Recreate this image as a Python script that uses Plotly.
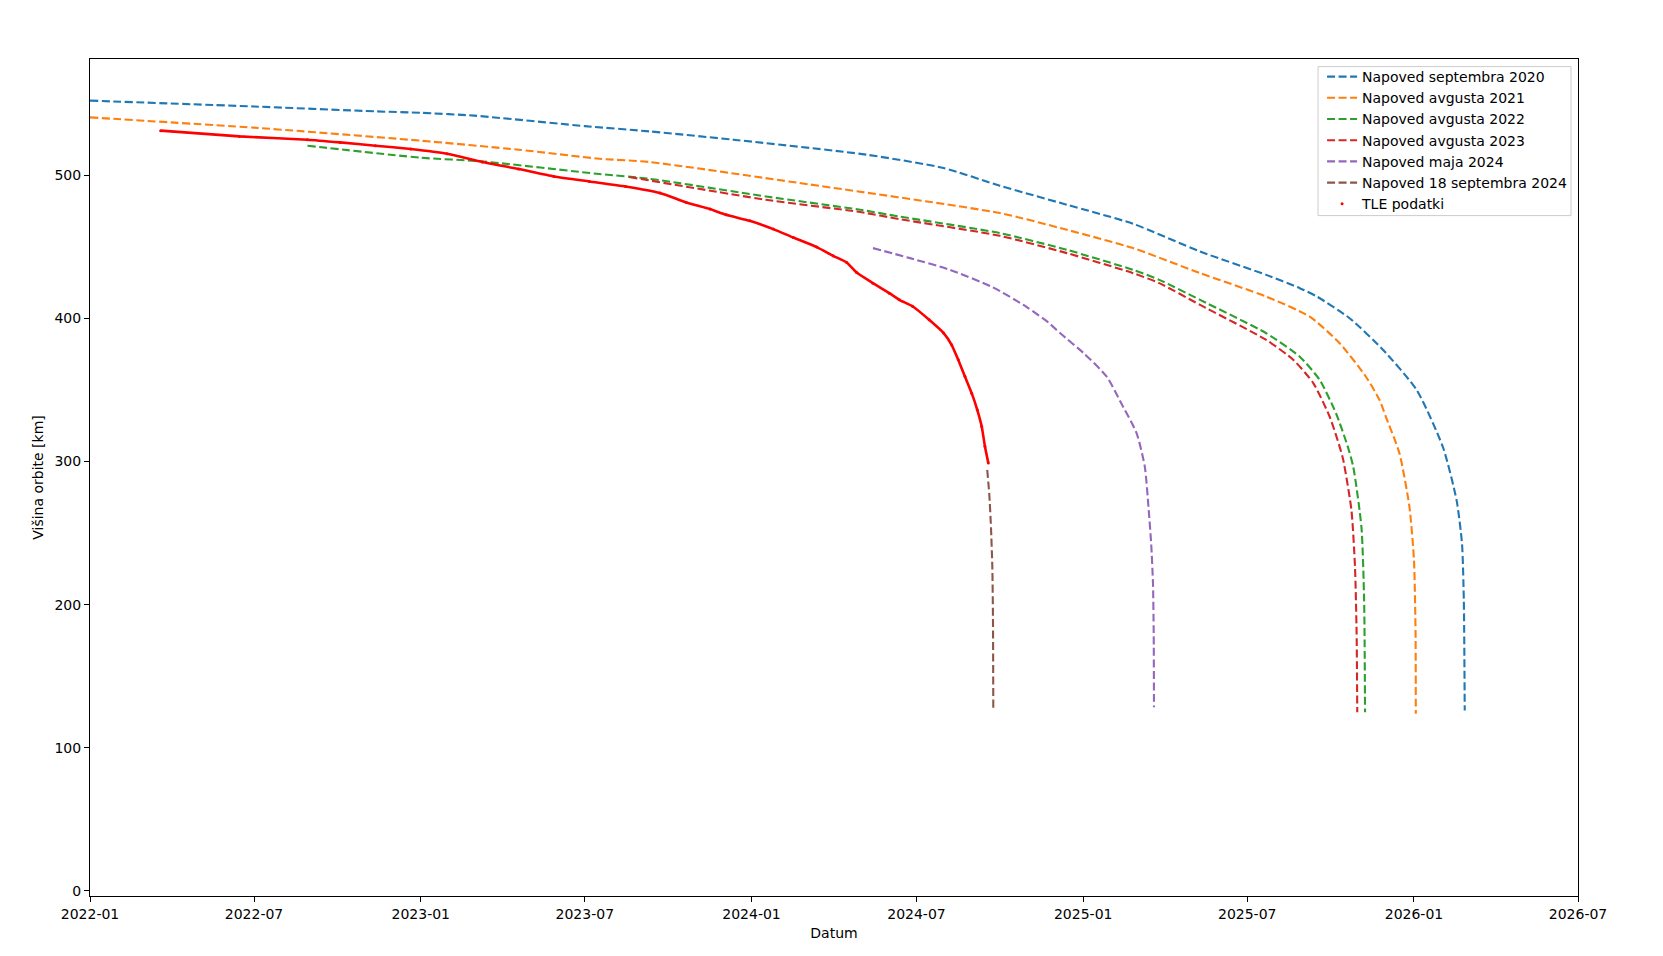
import plotly.graph_objects as go

# ---- data ----
sep2020_dates = ["2022-01-01", "2022-07-01", "2022-11-12", "2023-01-01", "2023-03-01", "2023-07-01",
                 "2023-09-10", "2023-12-12", "2024-05-07", "2024-07-31", "2024-10-01", "2024-12-14",
                 "2025-02-25", "2025-05-10", "2025-07-22", "2025-08-28", "2025-09-16", "2025-10-22",
                 "2025-11-28", "2026-01-04", "2026-02-02", "2026-02-17", "2026-02-23", "2026-02-25",
                 "2026-02-26"]
sep2020_alt = [552.3, 548.2, 544.8, 543.8, 541.8, 534.5, 530.8, 525.0, 514.5, 505.2, 492.8, 479.5,
               466.2, 446.8, 430.5, 421.2, 415.3, 400.2, 378.0, 350.0, 310.0, 273.0, 242.7, 203.0,
               126.0]

avg2021_dates = ["2022-01-01", "2022-07-01", "2022-08-25", "2023-01-01", "2023-04-19", "2023-07-17",
                 "2023-09-10", "2024-02-23", "2024-10-01", "2024-12-14", "2025-02-25", "2025-05-10",
                 "2025-07-22", "2025-09-08", "2025-10-11", "2025-11-09", "2025-11-24", "2025-12-01",
                 "2025-12-16", "2025-12-27", "2026-01-01", "2026-01-02 18:00", "2026-01-03"]
avg2021_alt = [540.6, 533.4, 530.8, 524.3, 518.0, 511.7, 509.4, 494.7, 473.7, 462.0, 449.2, 431.7,
               415.3, 401.3, 382.7, 359.3, 343.0, 331.3, 305.7, 268.3, 231.0, 179.7, 123.7]

avg2022_dates = ["2022-08-29", "2023-01-01", "2023-03-10", "2023-07-17", "2023-09-10", "2024-01-17",
                 "2024-04-30", "2024-06-12", "2024-10-01", "2024-12-14", "2025-02-25", "2025-03-26",
                 "2025-05-10", "2025-07-22", "2025-08-28", "2025-09-19", "2025-10-07", "2025-10-20",
                 "2025-10-26", "2025-11-04", "2025-11-07", "2025-11-08"]
avg2022_alt = [520.8, 512.4, 509.8, 501.0, 497.7, 485.3, 476.0, 471.3, 459.7, 448.0, 434.0, 427.0,
               413.0, 389.7, 373.3, 357.0, 333.7, 310.3, 296.3, 254.3, 203.0, 124.8]

avg2023_dates = ["2023-08-19", "2024-01-17", "2024-04-30", "2024-06-12", "2024-10-01", "2024-12-14",
                 "2025-02-25", "2025-03-26", "2025-05-10", "2025-07-22", "2025-08-21", "2025-09-12",
                 "2025-09-30", "2025-10-11", "2025-10-15", "2025-10-24", "2025-10-27 22:00",
                 "2025-10-29 17:00", "2025-10-30 10:00"]
avg2023_alt = [498.9, 483.0, 474.4, 469.5, 457.8, 445.7, 431.7, 424.7, 409.5, 385.0, 371.0, 354.7,
               331.3, 310.3, 301.0, 266.0, 226.3, 179.7, 124.8]

maj2024_dates = ["2024-05-14", "2024-06-24", "2024-08-07", "2024-09-23", "2024-10-30", "2024-11-24",
                 "2024-12-07", "2025-01-02", "2025-01-27", "2025-02-12", "2025-03-01", "2025-03-10",
                 "2025-03-14", "2025-03-17", "2025-03-19 00:00", "2025-03-19 19:00",
                 "2025-03-20 02:00"]
maj2024_alt = [449.2, 442.2, 434.0, 421.9, 408.3, 397.0, 389.5, 375.5, 359.3, 340.7, 319.7, 296.3,
               268.3, 242.7, 214.7, 179.7, 128.3]

sep2024_dates = ["2024-09-17 02:00", "2024-09-19 07:00", "2024-09-21 05:00", "2024-09-22 17:00",
                 "2024-09-23 10:00", "2024-09-23 19:00"]
sep2024_alt = [294.2, 277.7, 254.3, 226.3, 191.3, 127.2]

tle_dates = ["2022-03-20", "2022-06-15", "2022-08-29", "2022-10-04", "2022-11-12", "2022-12-21",
             "2023-01-30", "2023-03-10", "2023-04-19", "2023-05-28", "2023-07-06", "2023-08-15",
             "2023-09-22", "2023-10-21", "2023-11-16", "2023-12-04", "2023-12-30", "2024-01-25",
             "2024-02-16", "2024-03-13", "2024-03-31", "2024-04-15", "2024-04-26", "2024-05-14",
             "2024-06-01", "2024-06-12", "2024-06-27", "2024-07-15", "2024-07-31",
             "2024-08-08 19:00", "2024-08-16 02:00", "2024-08-23 12:00", "2024-08-30 22:00",
             "2024-09-06 02:00", "2024-09-11", "2024-09-14 14:00", "2024-09-18 07:00"]
tle_alt = [531.3, 527.3, 525.0, 523.1, 520.8, 518.5, 515.2, 509.4, 504.5, 499.3, 495.8, 492.3,
           487.7, 481.1, 476.5, 472.5, 468.3, 462.5, 456.6, 449.9, 443.8, 439.1, 432.1, 424.7,
           417.7, 413.1, 408.4, 399.1, 389.8,
           381.6, 371.1, 359.4, 347.8,
           336.2, 324.5, 310.5, 298.9]

x_tick_vals = ["2022-01-01", "2022-07-01", "2023-01-01", "2023-07-01", "2024-01-01", "2024-07-01",
               "2025-01-01", "2025-07-01", "2026-01-01", "2026-07-01"]
x_tick_text = ["2022-01", "2022-07", "2023-01", "2023-07", "2024-01", "2024-07",
               "2025-01", "2025-07", "2026-01", "2026-07"]
y_tick_vals = [0, 100, 200, 300, 400, 500]

forecasts = [
    ("Napoved septembra 2020", sep2020_dates, sep2020_alt, "#1f77b4"),
    ("Napoved avgusta 2021", avg2021_dates, avg2021_alt, "#ff7f0e"),
    ("Napoved avgusta 2022", avg2022_dates, avg2022_alt, "#2ca02c"),
    ("Napoved avgusta 2023", avg2023_dates, avg2023_alt, "#d62728"),
    ("Napoved maja 2024", maj2024_dates, maj2024_alt, "#9467bd"),
    ("Napoved 18 septembra 2024", sep2024_dates, sep2024_alt, "#8c564b"),
]

FONT = "DejaVu Sans"
fig = go.Figure()

for name, xs, ys, col in forecasts:
    fig.add_trace(go.Scatter(x=xs, y=ys, mode="lines", name=name,
                             line=dict(color=col, width=2.1, dash="8px,3.5px", shape="spline",
                                       smoothing=0.6)))

fig.add_trace(go.Scatter(x=tle_dates, y=tle_alt, mode="lines", showlegend=False,
                         line=dict(color="#ff0000", width=2.6, shape="spline", smoothing=0.5),
                         hoverinfo="skip"))
fig.add_trace(go.Scatter(x=tle_dates, y=tle_alt, mode="markers", name="TLE podatki",
                         marker=dict(color="#ff0000", size=3)))

# legend frame (matplotlib-like box)
fig.add_shape(type="rect", xref="paper", yref="paper",
              x0=0.8253, x1=0.9953, y0=0.8129, y1=0.9909,
              line=dict(color="#cccccc", width=1), fillcolor="white", layer="below")

fig.update_layout(
    width=1647, height=940,
    template="none",
    paper_bgcolor="white", plot_bgcolor="white",
    margin=dict(l=82, r=77, t=51, b=52, autoexpand=False),
    font=dict(family=FONT, size=14, color="black"),
    showlegend=True,
    legend=dict(x=0.828, y=0.9976, xanchor="left", yanchor="top",
                bgcolor="rgba(0,0,0,0)", borderwidth=0,
                font=dict(family=FONT, size=14, color="black"),
                itemwidth=30, tracegroupgap=0),
)
fig.update_xaxes(
    range=["2022-01-01", "2026-07-01"], type="date",
    tickmode="array", tickvals=x_tick_vals, ticktext=x_tick_text,
    showgrid=False, zeroline=False,
    showline=True, linecolor="black", linewidth=1.1, mirror=True,
    ticks="outside", ticklen=5, tickwidth=1.1, tickcolor="black",
    tickfont=dict(family=FONT, size=14, color="black"),
    title=dict(text="Datum", font=dict(family=FONT, size=14, color="black"), standoff=7),
    automargin=False,
)
fig.update_yaxes(
    range=[-3.7, 581.4],
    tickmode="array", tickvals=y_tick_vals,
    showgrid=False, zeroline=False,
    showline=True, linecolor="black", linewidth=1.1, mirror=True,
    ticks="outside", ticklen=5, tickwidth=1.1, tickcolor="black",
    tickfont=dict(family=FONT, size=14, color="black"),
    title=dict(text="Višina orbite [km]", font=dict(family=FONT, size=14, color="black"), standoff=7),
    automargin=False,
)

fig.write_html("out.html")
